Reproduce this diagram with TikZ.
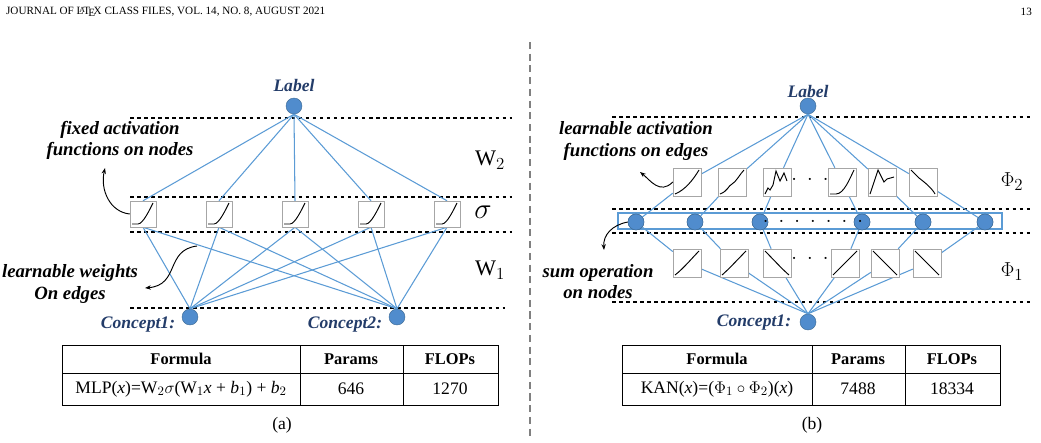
\documentclass[tikz,border=0pt]{standalone}
\usepackage{fontspec}
\setmainfont{Liberation Serif}
\usetikzlibrary{arrows.meta}
\definecolor{lb}{RGB}{91,155,213}
\definecolor{nf}{RGB}{80,140,205}
\definecolor{tb}{RGB}{35,60,105}
\tikzset{
 dot/.style={circle,fill=nf,draw=lb!70!black,minimum size=0.48cm,inner sep=0},
 abox/.style={draw=gray!70,fill=white,minimum size=0.78cm,inner sep=0},
 kbox/.style={draw=gray!70,fill=white,minimum size=0.84cm,inner sep=0},
 edge/.style={draw=lb,line width=0.9pt},
 sep/.style={dashed,line width=0.9pt},
 lab/.style={font=\fontsize{15}{16}\selectfont\bfseries\itshape,text=tb},
 note/.style={font=\fontsize{16}{18}\selectfont\bfseries\itshape,align=center},
 curv/.style={line width=0.8pt},
 arr/.style={-{Stealth[length=5pt]},line width=0.8pt},
 tt/.style={font=\fontsize{15}{17}\selectfont},
 th/.style={font=\fontsize{14}{16}\selectfont\bfseries},
 sym/.style={font=\fontsize{19}{20}\selectfont}
}
\begin{document}
\begin{tikzpicture}[x=0.03cm,y=-0.03cm]
\useasboundingbox (0,0) rectangle (1041,442);
\node[anchor=west,font=\fontsize{9.5}{10}\selectfont] (hd) at (2,12) {JOURNAL OF \LaTeX\ CLASS FILES, VOL. 14, NO. 8, AUGUST 2021};
\node[anchor=east,font=\fontsize{9.5}{10}\selectfont] (pg) at (1036,12) {13};
\draw[dashed,gray,line width=1.2pt,dash pattern=on 6pt off 4pt] (530,42) -- (530,440);
% ---------- left
\foreach \y/\a/\b in {118/130/512,197/130/512,232/130/512,308/130/505}
  \draw[sep] (\a,\y) -- (\b,\y);
\node[dot] (L) at (294,106) {};
\node[lab] (Lt) at (294,85) {Label};
\node[dot] (c1) at (190,317) {};
\node[dot] (c2) at (397,317) {};
\node[lab] (c1t) at (138,325) {Concept1:};
\node[lab] (c2t) at (345,325) {Concept2:};
\foreach \i/\x in {1/143,2/219,3/295,4/371,5/447}{
  \node[abox] (s\i) at (\x,214) {};
}
\foreach \i in {1,...,5}{
  \draw[edge] (L.south) -- (s\i.north);
  \draw[edge] (s\i.south) -- (c1.north);
  \draw[edge] (s\i.south) -- (c2.north);
}
\foreach \i in {1,...,5}{
  \node[abox] at (s\i) {};
  \draw[curv] ([shift={(-11,10)}]s\i.center) -- ++(6,0) .. controls +(5,0) and +(-3,6) .. ++(15,-21);
}
\node[sym] (w2) at (490,160) {W$_2$};
\node[font=\fontsize{30}{30}\selectfont] (sg) at (483,212) {$\sigma$};
\node[sym] (w1) at (490,270) {W$_1$};
\node[note] (n1) at (120,140) {fixed activation\\functions on nodes};
\draw[arr] (s1.west) .. controls (110,212) and (100,190) .. (105,168);
\node[note] (n2) at (70,284) {learnable weights\\On edges};
\draw[arr] (197,246) .. controls (165,250) and (180,285) .. (145,288);
% left table
\draw[line width=0.8pt] (62,345) rectangle (498,405);
\draw[line width=0.8pt] (62,373) -- (498,373) (300,345) -- (300,405) (403,345) -- (403,405);
\node[th] (f1) at (181,359) {Formula};
\node[th] (p1) at (351,359) {Params};
\node[th] (fl1) at (450,359) {FLOPs};
\node[tt] (m1) at (181,389) {MLP(\textit{x})=W$_2\sigma$(W$_1$\textit{x} + \textit{b}$_1$) + \textit{b}$_2$};
\node[tt] (m2) at (351,389) {646};
\node[tt] (m3) at (450,389) {1270};
\node[tt] (ca) at (282,425) {(a)};
% ---------- right
\foreach \y in {117,209,233,302}
  \draw[sep] (612,\y) -- (1030,\y);
\node[dot] (R) at (808,106) {};
\node[lab] (Rt) at (808,91) {Label};
\node[dot] (k) at (808,322) {};
\node[lab] (kt) at (754,323) {Concept1:};
\draw[draw=lb,line width=0.9pt] (618,213) rectangle (1002,229);
\foreach \i/\x in {1/687,2/732,3/777,4/842,5/882,6/923}{
  \node[kbox] (u\i) at (\x,182) {};
}
\foreach \i/\x in {1/687,2/734,3/777,4/845,5/885,6/927}{
  \node[kbox] (d\i) at (\x,263) {};
}
\foreach \i/\x in {1/636,2/695,3/760,4/862,5/923,6/985}{
  \node[dot] (m\i) at (\x,222) {};
}
\foreach \i in {1,...,6}{
  \draw[edge] (R.south) -- (u\i);
  \draw[edge] (u\i) -- (m\i);
  \draw[edge] (m\i) -- (d\i);
  \draw[edge] (d\i) -- (k.north);
}
\foreach \i in {1,...,6}{ \node[kbox] at (u\i) {}; \node[kbox] at (d\i) {}; \node[dot] at (m\i) {}; }
% upper curves
\draw[curv] ([shift={(-12,12)}]u1.center) .. controls +(10,-4) and +(-6,10) .. ++(24,-24);
\draw[curv] ([shift={(-12,12)}]u2.center) .. controls +(8,-3) and +(-4,2) .. ++(12,-10) .. controls +(4,-2) and +(-4,4) .. ++(12,-14);
\draw[curv] ([shift={(-12,12)}]u3.center) -- ++(3,-6) -- ++(2,2) -- ++(3,-5) -- ++(3,-14) -- ++(4,10) -- ++(4,-8) -- ++(3,8);
\draw[curv] ([shift={(-12,12)}]u4.center) -- ++(6,0) .. controls +(8,0) and +(-4,8) .. ++(18,-24);
\draw[curv] ([shift={(-12,12)}]u5.center) -- ++(2,-6) -- ++(6,-18) -- ++(6,12) -- ++(3,-3) -- ++(7,-2);
\draw[curv] ([shift={(-12,-12)}]u6.center) -- ++(8,8) .. controls +(4,3) and +(-3,-6) .. ++(16,16);
% lower curves
\draw[curv] ([shift={(-12,12)}]d1.center) .. controls +(8,-6) and +(-6,6) .. ++(24,-24);
\draw[curv] ([shift={(-12,12)}]d2.center) .. controls +(6,-5) and +(-5,5) .. ++(24,-24);
\draw[curv] ([shift={(-12,-12)}]d3.center) .. controls +(6,6) and +(-6,-5) .. ++(24,24);
\draw[curv] ([shift={(-12,12)}]d4.center) -- ++(24,-24);
\draw[curv] ([shift={(-12,-12)}]d5.center) -- ++(24,24);
\draw[curv] ([shift={(-12,-12)}]d6.center) -- ++(24,24);
\node[font=\fontsize{16}{16}\selectfont] (e1) at (810,180) {$\cdot\;\cdot\;\cdot$};
\node[font=\fontsize{16}{16}\selectfont] (e2) at (810,259) {$\cdot\;\cdot\;\cdot$};
\node[font=\fontsize{18}{18}\selectfont] (e3) at (813,222) {$\cdot\;\cdot\;\cdot\;\cdot\;\cdot\;\cdot\;\cdot$};
\node[sym] (p2) at (1012,182) {$\Phi_2$};
\node[sym] (p1b) at (1012,272) {$\Phi_1$};
\node[note] (n3) at (636,141) {learnable activation\\functions on edges};
\draw[arr] (u1.west) .. controls (660,195) and (650,180) .. (640,172);
\node[note] (n4) at (598,282) {sum operation\\on nodes};
\draw[arr] (m1.west) .. controls (612,225) and (603,235) .. (604,250);
% right table
\draw[line width=0.8pt] (622,345) rectangle (1000,405);
\draw[line width=0.8pt] (622,373) -- (1000,373) (812,345) -- (812,405) (905,345) -- (905,405);
\node[th] (rf1) at (717,359) {Formula};
\node[th] (rp1) at (858,359) {Params};
\node[th] (rfl1) at (952,359) {FLOPs};
\node[tt] (rm1) at (717,389) {KAN(\textit{x})=($\Phi_1\circ\Phi_2$)(\textit{x})};
\node[tt] (rm2) at (858,389) {7488};
\node[tt] (rm3) at (952,389) {18334};
\node[tt] (cb) at (812,425) {(b)};
\end{tikzpicture}
\end{document}
